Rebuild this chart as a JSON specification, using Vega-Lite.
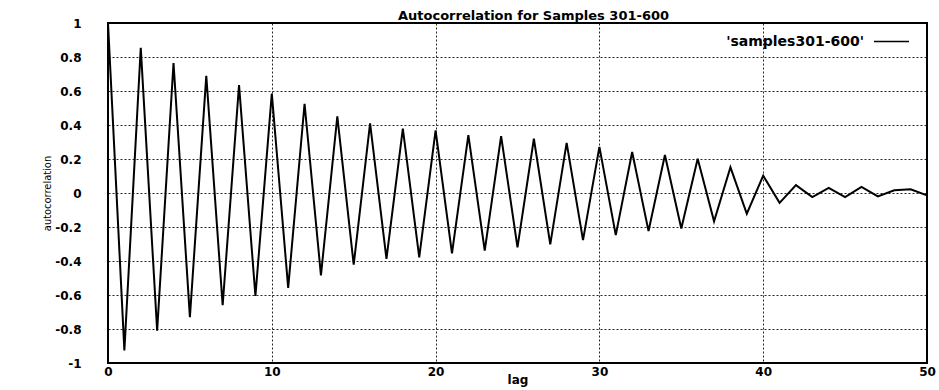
{
  "$schema": "https://vega.github.io/schema/vega-lite/v6.json",
  "autosize": {"type": "none"},
  "width": 819,
  "height": 340,
  "padding": {"left": 108, "top": 23, "right": 12, "bottom": 27},
  "background": "white",
  "title": {
    "text": "Autocorrelation for Samples 301-600",
    "font": "DejaVu Sans",
    "fontSize": 13,
    "fontWeight": "bold",
    "color": "#000",
    "anchor": "middle",
    "dx": 16,
    "offset": 0,
    "dy": 6
  },
  "config": {
    "view": {"stroke": "#000", "strokeWidth": 2},
    "axis": {
      "labelFont": "DejaVu Sans",
      "labelFontWeight": "bold",
      "labelFontSize": 12,
      "labelColor": "#000",
      "titleColor": "#000",
      "domain": false,
      "ticks": false,
      "grid": true,
      "gridColor": "#000",
      "gridOpacity": 0.85,
      "gridDash": [2, 2],
      "gridWidth": 1
    }
  },
  "data": {
    "values": [
      {"lag": 0, "r": 1.0}, {"lag": 1, "r": -0.926}, {"lag": 2, "r": 0.854}, {"lag": 3, "r": -0.81},
      {"lag": 4, "r": 0.765}, {"lag": 5, "r": -0.73}, {"lag": 6, "r": 0.689}, {"lag": 7, "r": -0.66},
      {"lag": 8, "r": 0.635}, {"lag": 9, "r": -0.606}, {"lag": 10, "r": 0.585}, {"lag": 11, "r": -0.558},
      {"lag": 12, "r": 0.525}, {"lag": 13, "r": -0.484}, {"lag": 14, "r": 0.451}, {"lag": 15, "r": -0.422},
      {"lag": 16, "r": 0.409}, {"lag": 17, "r": -0.387}, {"lag": 18, "r": 0.379}, {"lag": 19, "r": -0.378},
      {"lag": 20, "r": 0.369}, {"lag": 21, "r": -0.355}, {"lag": 22, "r": 0.341}, {"lag": 23, "r": -0.339},
      {"lag": 24, "r": 0.335}, {"lag": 25, "r": -0.32}, {"lag": 26, "r": 0.319}, {"lag": 27, "r": -0.302},
      {"lag": 28, "r": 0.295}, {"lag": 29, "r": -0.277}, {"lag": 30, "r": 0.271}, {"lag": 31, "r": -0.248},
      {"lag": 32, "r": 0.241}, {"lag": 33, "r": -0.224}, {"lag": 34, "r": 0.224}, {"lag": 35, "r": -0.209},
      {"lag": 36, "r": 0.202}, {"lag": 37, "r": -0.166}, {"lag": 38, "r": 0.151}, {"lag": 39, "r": -0.122},
      {"lag": 40, "r": 0.102}, {"lag": 41, "r": -0.058}, {"lag": 42, "r": 0.046}, {"lag": 43, "r": -0.024},
      {"lag": 44, "r": 0.03}, {"lag": 45, "r": -0.024}, {"lag": 46, "r": 0.036}, {"lag": 47, "r": -0.02},
      {"lag": 48, "r": 0.016}, {"lag": 49, "r": 0.022}, {"lag": 50, "r": -0.014}
    ]
  },
  "transform": [{"calculate": "\"'samples301-600'\"", "as": "series"}],
  "mark": {"type": "line", "strokeWidth": 2, "strokeJoin": "miter"},
  "encoding": {
    "x": {
      "field": "lag", "type": "quantitative",
      "scale": {"domain": [0, 50], "nice": false},
      "axis": {"values": [0, 10, 20, 30, 40, 50], "title": "lag", "titleFont": "DejaVu Sans", "titleFontSize": 12, "titleFontWeight": "bold", "labelPadding": 3, "titlePadding": -3, "labelFlush": false}
    },
    "y": {
      "field": "r", "type": "quantitative",
      "scale": {"domain": [-1, 1], "nice": false},
      "axis": {"values": [-1, -0.8, -0.6, -0.4, -0.2, 0, 0.2, 0.4, 0.6, 0.8, 1], "labelExpr": "'' + datum.value", "title": "autocorrelation", "titleFont": "DejaVu Sans Condensed, Liberation Sans Narrow, Liberation Sans", "titleFontSize": 11, "titleFontWeight": "normal", "labelPadding": 27, "titlePadding": 2}
    },
    "color": {
      "field": "series", "type": "nominal",
      "scale": {"range": ["#000"]},
      "legend": {
        "title": null,
        "orient": "none",
        "legendX": 765,
        "legendY": 0,
        "padding": 0,
        "symbolType": "stroke",
        "symbolSize": 1225,
        "symbolStrokeWidth": 1.5,
        "labelAlign": "right",
        "labelOffset": -46,
        "labelFont": "DejaVu Sans",
        "labelFontWeight": "bold",
        "labelFontSize": 14,
        "labelColor": "#000",
        "labelLimit": 300
      }
    }
  }
}
